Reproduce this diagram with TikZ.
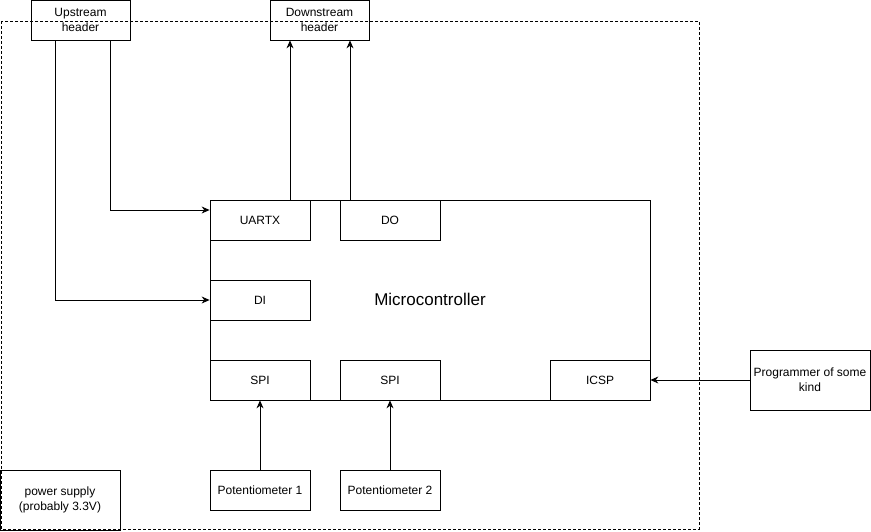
\documentclass[tikz,border=0pt]{standalone}
\usepackage{fontspec}
\setmainfont{Liberation Sans}
\usetikzlibrary{arrows.meta}
\tikzset{
	blockbox/.style={rectangle, draw=black, line width=0.8pt, inner sep=0pt, align=center, font=\fontsize{12}{14.6}\selectfont},
	portbox/.style={blockbox, minimum width=100pt, minimum height=40pt},
	sigline/.style={line width=0.8pt, -{Stealth[length=8pt,width=7pt]}}
}
\begin{document}
\begin{tikzpicture}[x=1pt, y=-1pt]
	\useasboundingbox (0,0) rectangle (871,531);
	\draw[dashed, line width=0.8pt, dash pattern=on 3pt off 2pt] (1,21) rectangle (699,529);
	\node[blockbox, minimum width=440pt, minimum height=200pt] at (430,300) (MCU) {};
	\node[font=\fontsize{17}{20}\selectfont] at (430,299) (MCUlabel) {Microcontroller};
	\node[portbox] at (260,220) (UARTX) {UARTX};
	\node[portbox] at (390,220) (DO) {DO};
	\node[portbox] at (260,300) (DI) {DI};
	\node[portbox] at (260,380) (SPI1) {SPI};
	\node[portbox] at (390,380) (SPI2) {SPI};
	\node[portbox] at (600,380) (ICSP) {ICSP};
	\node[blockbox, minimum width=99pt, minimum height=40pt] at (80.5,20) (Up) {Upstream\\header};
	\node[blockbox, minimum width=99pt, minimum height=40pt] at (319.5,20) (Down) {Downstream\\header};
	\node[blockbox, minimum width=120pt, minimum height=60pt] at (810,380) (Prog) {Programmer of some\\kind};
	\node[portbox] at (260,490) (Pot1) {Potentiometer 1};
	\node[portbox] at (390,490) (Pot2) {Potentiometer 2};
	\node[blockbox, minimum width=120pt, minimum height=60pt] at (60,500) (Power) {power supply\\(probably 3.3V)};
	% header inputs
	\draw[sigline] ([xshift=-25.5pt]Up.south) |- (DI.west);
	\draw[sigline] ([xshift=29.5pt]Up.south) |- ([yshift=10pt]UARTX.west);
	% outputs to the next header
	\draw[sigline] ([xshift=30pt]UARTX.north) -- ([xshift=30pt]UARTX.north |- Down.south);
	\draw[sigline] ([xshift=-40pt]DO.north) -- ([xshift=-40pt]DO.north |- Down.south);
	\draw[sigline] (Prog.west) -- (ICSP.east);
	\draw[sigline] (Pot1.north) -- (SPI1.south);
	\draw[sigline] (Pot2.north) -- (SPI2.south);
\end{tikzpicture}
\end{document}
